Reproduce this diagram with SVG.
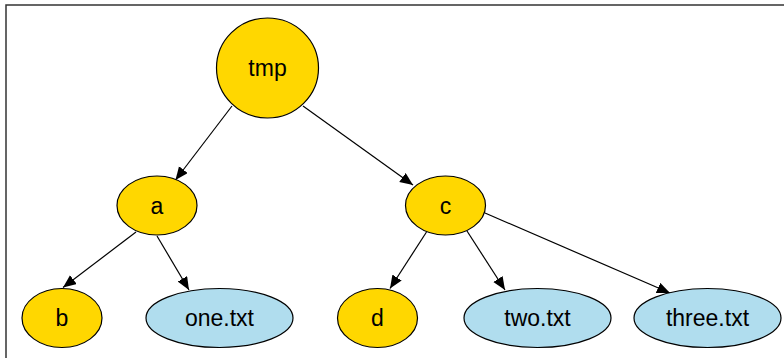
<svg xmlns="http://www.w3.org/2000/svg" width="784" height="358" viewBox="0 0 784 358">
<defs>
<style>
.frame{fill:#fff;stroke:#333;stroke-width:1.5}
.dir{fill:#FFD700;stroke:#000;stroke-width:1.2}
.file{fill:#B0DDEE;stroke:#000;stroke-width:1.2}
.lbl{font-family:"Liberation Sans",Arial,sans-serif;font-size:23px;fill:#000;text-anchor:middle}
.edge{stroke:#000;stroke-width:1.2;fill:none;marker-end:url(#arr)}
</style>
<marker id="arr" markerUnits="userSpaceOnUse" markerWidth="14" markerHeight="12" refX="13" refY="5.5" orient="auto">
<path d="M0,0 L13,5.5 L0,11 z" fill="#000"/>
</marker>
</defs>
<rect class="frame" x="6" y="5" width="790" height="370"/>
<g id="connectors">
<line class="edge" x1="232" y1="106" x2="175.5" y2="180"/>
<line class="edge" x1="303" y1="106" x2="413" y2="185"/>
<line class="edge" x1="136" y1="232" x2="63" y2="287.5"/>
<line class="edge" x1="157" y1="236" x2="189" y2="290"/>
<line class="edge" x1="426.5" y1="232" x2="390" y2="288.5"/>
<line class="edge" x1="467" y1="231" x2="505" y2="290"/>
<line class="edge" x1="485" y1="213" x2="670" y2="293"/>
</g>
<g id="tmp"><ellipse class="dir" cx="267.5" cy="68" rx="51" ry="50"/><text class="lbl" x="267.5" y="76">tmp</text></g>
<g id="a"><ellipse class="dir" cx="157" cy="205.5" rx="40" ry="29.5"/><text class="lbl" x="157" y="213.5">a</text></g>
<g id="c"><ellipse class="dir" cx="445.5" cy="205.5" rx="40" ry="29.5"/><text class="lbl" x="445.5" y="213.5">c</text></g>
<g id="b"><ellipse class="dir" cx="62" cy="318" rx="40" ry="29.5"/><text class="lbl" x="62" y="326">b</text></g>
<g id="one.txt"><ellipse class="file" cx="219.5" cy="318" rx="73.5" ry="29.5"/><text class="lbl" x="219.5" y="326">one.txt</text></g>
<g id="d"><ellipse class="dir" cx="377.5" cy="318" rx="40" ry="29.5"/><text class="lbl" x="377.5" y="326">d</text></g>
<g id="two.txt"><ellipse class="file" cx="537.5" cy="318" rx="73.5" ry="29.5"/><text class="lbl" x="537.5" y="326">two.txt</text></g>
<g id="three.txt"><ellipse class="file" cx="707.5" cy="318" rx="73.5" ry="29.5"/><text class="lbl" x="707.5" y="326">three.txt</text></g>
</svg>
